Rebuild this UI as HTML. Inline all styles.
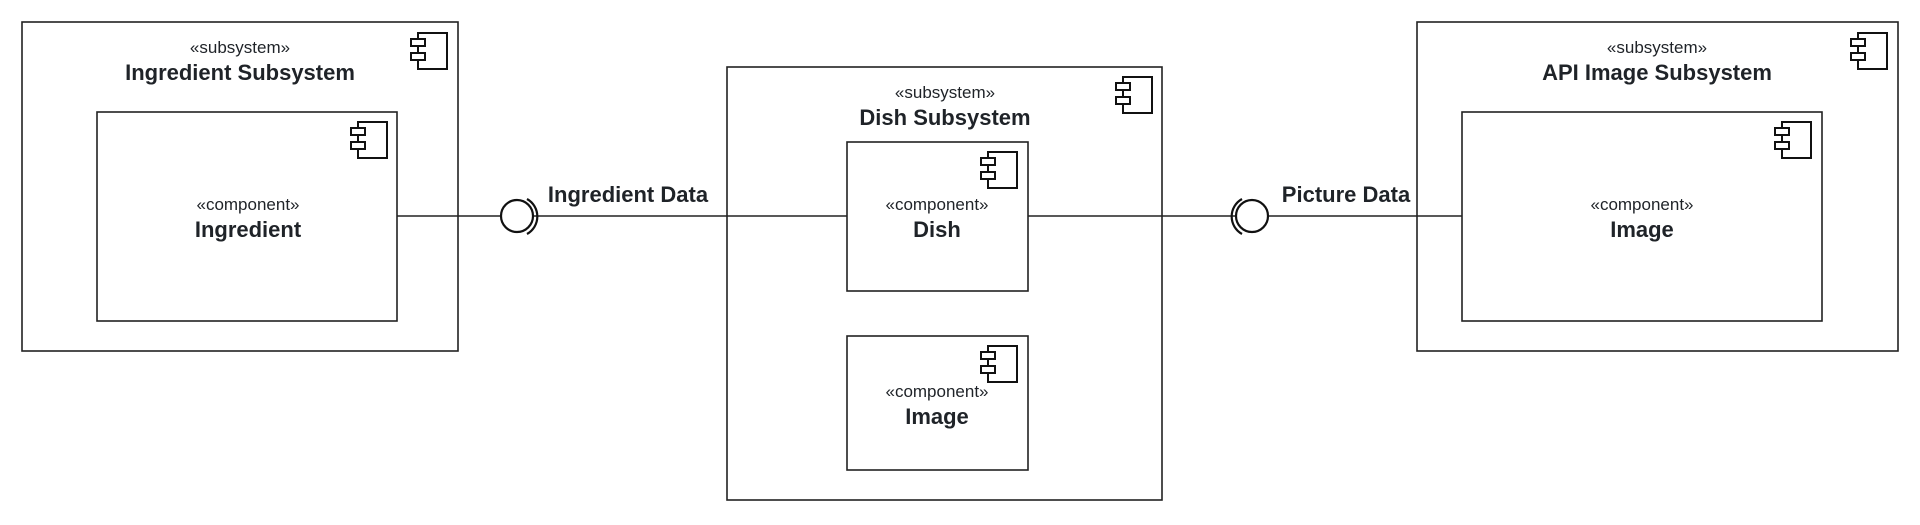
<!DOCTYPE html>
<html><head><meta charset="utf-8"><style>
html,body{margin:0;padding:0;background:#fff;}
svg{display:block;}
text{font-family:"Liberation Sans",Arial,sans-serif;fill:#1f2328;text-anchor:middle;}
.s{font-size:17px;}
.b{font-size:22px;font-weight:bold;}
</style></head><body>
<svg width="1920" height="525" viewBox="0 0 1920 525" xmlns="http://www.w3.org/2000/svg">
<defs>
<g id="ic" fill="#fff" stroke="#111" stroke-width="2">
<rect x="7" y="0" width="29" height="36"/>
<rect x="0" y="6" width="14" height="7"/>
<rect x="0" y="20" width="14" height="7"/>
</g>
</defs>
<g fill="none" stroke="#222" stroke-width="1.6">
<rect x="22" y="22" width="436" height="329"/>
<rect x="97" y="112" width="300" height="209"/>
<rect x="727" y="67" width="435" height="433"/>
<rect x="847" y="142" width="181" height="149"/>
<rect x="847" y="336" width="181" height="134"/>
<rect x="1417" y="22" width="481" height="329"/>
<rect x="1462" y="112" width="360" height="209"/>
<line x1="397" y1="216" x2="501" y2="216"/>
<line x1="533" y1="216" x2="847" y2="216"/>
<line x1="1028" y1="216" x2="1236" y2="216"/>
<line x1="1268" y1="216" x2="1462" y2="216"/>
</g>
<g fill="none" stroke="#111" stroke-width="2.2">
<circle cx="517" cy="216" r="16"/>
<path d="M527,199 A20,20 0 0 1 527,234"/>
<circle cx="1252" cy="216" r="16"/>
<path d="M1242,199 A20,20 0 0 0 1242,234"/>
</g>
<use href="#ic" x="411" y="33"/>
<use href="#ic" x="351" y="122"/>
<use href="#ic" x="1116" y="77"/>
<use href="#ic" x="981" y="152"/>
<use href="#ic" x="981" y="346"/>
<use href="#ic" x="1851" y="33"/>
<use href="#ic" x="1775" y="122"/>

<text class="s" x="240" y="53">«subsystem»</text>
<text class="b" x="240" y="80">Ingredient Subsystem</text>
<text class="s" x="248" y="210">«component»</text>
<text class="b" x="248" y="237">Ingredient</text>

<text class="b" x="628" y="202">Ingredient Data</text>

<text class="s" x="945" y="98">«subsystem»</text>
<text class="b" x="945" y="125">Dish Subsystem</text>
<text class="s" x="937" y="210">«component»</text>
<text class="b" x="937" y="237">Dish</text>
<text class="s" x="937" y="397">«component»</text>
<text class="b" x="937" y="424">Image</text>

<text class="b" x="1346" y="202">Picture Data</text>

<text class="s" x="1657" y="53">«subsystem»</text>
<text class="b" x="1657" y="80">API Image Subsystem</text>
<text class="s" x="1642" y="210">«component»</text>
<text class="b" x="1642" y="237">Image</text>
</svg>
</body></html>
